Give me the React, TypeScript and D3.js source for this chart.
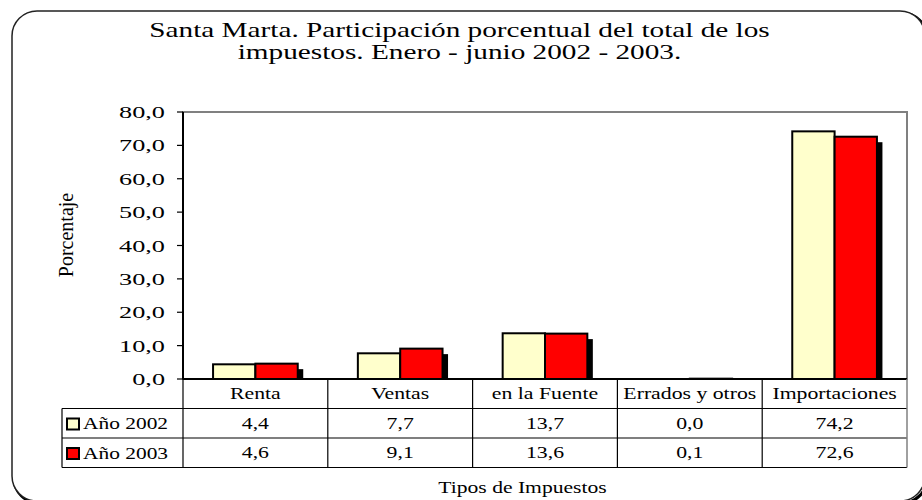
import React from "react";
import * as d3 from "d3";

const categories = ["Renta", "Ventas", "en la Fuente", "Errados y otros", "Importaciones"];
const seriesNames = ["Año 2002", "Año 2003"];
const values2002 = [4.4, 7.7, 13.7, 0.0, 74.2];
const values2003 = [4.6, 9.1, 13.6, 0.1, 72.6];
const yTicks = [0, 10, 20, 30, 40, 50, 60, 70, 80];
const seriesColors = ["#FFFFCC", "#FF0000"];
const titleLines = [
  "Santa Marta. Participación porcentual del total de los",
  "impuestos. Enero - junio 2002 - 2003.",
];
const yTitle = "Porcentaje";
const xTitle = "Tipos de Impuestos";

const W = 922;
const H = 500;
const plot = { left: 183, right: 907, top: 112, bottom: 379 };
const rowH = 29.5;
const legendLeft = 62;
const SERIF = "'Liberation Serif', 'Times New Roman', serif";

const fmt = (v: number) => d3.format(".1f")(v).replace(".", ",");

function T(props: {
  x: number; y: number; sx?: number; anchor?: string; size: number;
  family?: string; rotate?: number; children: React.ReactNode;
}) {
  const { x, y, sx = 1, anchor = "middle", size, family = SERIF, rotate = 0, children } = props;
  return (
    <text
      transform={`translate(${x},${y}) rotate(${rotate}) scale(${sx},1)`}
      textAnchor={anchor}
      fontSize={size}
      fontFamily={family}
      fill="#000"
    >
      {children}
    </text>
  );
}

export default function App() {
  const y = d3.scaleLinear().domain([0, 80]).range([plot.bottom, plot.top]);
  const x = d3.scaleBand<string>().domain(categories).range([plot.left, plot.right]).padding(0);
  const xs = d3
    .scaleBand<string>()
    .domain(seriesNames)
    .range([0, x.bandwidth()])
    .paddingInner(0)
    .paddingOuter(0.71);
  const data = [values2002, values2003];
  const shadow = 5.5;
  const tableTop = plot.bottom;
  const rowsY = [tableTop, tableTop + rowH, tableTop + 2 * rowH, tableTop + 3 * rowH];

  return (
    <svg
      width={W}
      height={H}
      style={{ position: "absolute", left: 0, top: 0, background: "#fff" }}
    >
      {/* outer frame */}
      <rect x={14} y={13} width={913} height={490} rx={25} ry={25} fill="none" stroke="#000" strokeWidth={3} />
      <rect x={12} y={11} width={913} height={490} rx={25} ry={25} fill="#fff" stroke="#222" strokeWidth={1.5} />

      {/* title */}
      {titleLines.map((t, i) => (
        <T key={i} x={459.5} y={37 + i * 21.5} size={22} sx={1.33}>
          {t}
        </T>
      ))}

      {/* plot area border */}
      <rect
        x={plot.left}
        y={plot.top}
        width={plot.right - plot.left}
        height={plot.bottom - plot.top}
        fill="#fff"
        stroke="#808080"
        strokeWidth={2}
      />

      {/* bars */}
      {categories.map((c, ci) =>
        seriesNames.map((s, si) => {
          const v = data[si][ci];
          const bx = (x(c) as number) + (xs(s) as number);
          const by = y(v);
          const bh = y(0) - y(v);
          const sh = Math.max(0, bh - shadow);
          return (
            <g key={c + s}>
              {sh > 0 && (
                <rect x={bx + shadow} y={by + shadow} width={xs.bandwidth()} height={sh} fill="#000" />
              )}
              <rect
                x={bx}
                y={by}
                width={xs.bandwidth()}
                height={bh}
                fill={seriesColors[si]}
                stroke="#000"
                strokeWidth={2}
              />
            </g>
          );
        })
      )}

      {/* y axis */}
      <line x1={plot.left} x2={plot.left} y1={plot.top} y2={plot.bottom} stroke="#000" strokeWidth={2} />
      {yTicks.map((t) => (
        <g key={t}>
          <line x1={plot.left - 6} x2={plot.left} y1={y(t)} y2={y(t)} stroke="#000" strokeWidth={1.2} />
          <T x={165} y={y(t) + 6} anchor="end" size={17.5} sx={1.5}>
            {fmt(t)}
          </T>
        </g>
      ))}
      <line x1={plot.left} x2={plot.right} y1={plot.bottom} y2={plot.bottom} stroke="#000" strokeWidth={2} />

      {/* y title */}
      <T x={73} y={235} rotate={-90} size={20}>
        {yTitle}
      </T>

      {/* data table */}
      {rowsY.slice(1).map((ry, i) => (
        <line key={i} x1={legendLeft} x2={plot.right} y1={ry} y2={ry} stroke="#000" strokeWidth={1.2} />
      ))}
      <line x1={legendLeft} x2={legendLeft} y1={rowsY[1]} y2={rowsY[3]} stroke="#000" strokeWidth={1.2} />
      {categories.map((c) => (
        <line
          key={c}
          x1={x(c) as number}
          x2={x(c) as number}
          y1={rowsY[0]}
          y2={rowsY[3]}
          stroke="#000"
          strokeWidth={1.2}
        />
      ))}
      <line x1={plot.right} x2={plot.right} y1={rowsY[0]} y2={rowsY[3]} stroke="#808080" strokeWidth={1.5} />
      {categories.map((c) => (
        <T key={c} x={(x(c) as number) + x.bandwidth() / 2} y={rowsY[0] + 19.5} size={17} sx={1.28}>
          {c}
        </T>
      ))}
      {seriesNames.map((s, si) => (
        <g key={s}>
          <rect
            x={legendLeft + 5}
            y={rowsY[si + 1] + 10}
            width={12}
            height={11}
            fill={seriesColors[si]}
            stroke="#000"
            strokeWidth={2}
          />
          <T x={legendLeft + 21} y={rowsY[si + 1] + 20.5} anchor="start" size={17} sx={1.26}>
            {s}
          </T>
          {categories.map((c, ci) => (
            <T
              key={c}
              x={(x(c) as number) + x.bandwidth() / 2}
              y={rowsY[si + 1] + 20}
              size={17}
              sx={1.28}
            >
              {fmt(data[si][ci])}
            </T>
          ))}
        </g>
      ))}

      {/* x title */}
      <T x={522.5} y={493} size={17} sx={1.27}>
        {xTitle}
      </T>
    </svg>
  );
}
